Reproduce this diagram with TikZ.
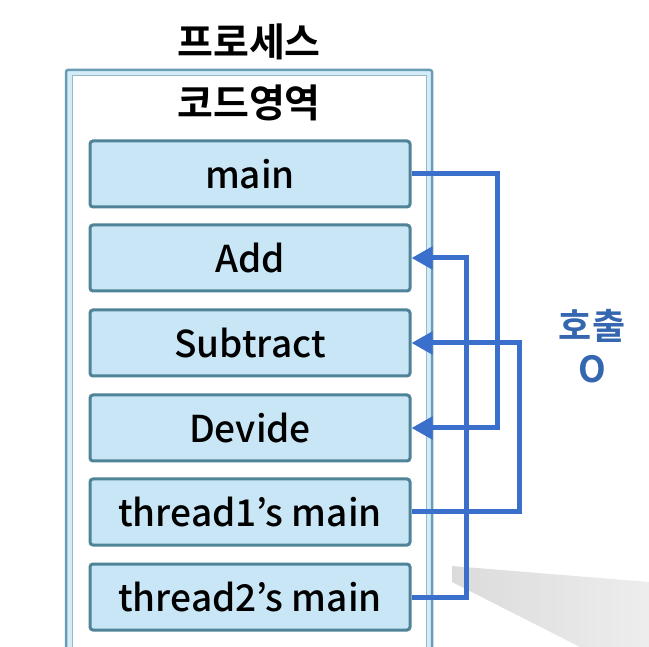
\documentclass[tikz,border=0pt]{standalone}
\usepackage{fontspec}
\setmainfont{Noto Sans CJK KR Medium}
\newfontfamily\krbold{Noto Sans CJK KR Bold}
\usetikzlibrary{arrows.meta}
\definecolor{boxfill}{HTML}{C8E6F5}
\definecolor{boxline}{HTML}{4F8398}
\definecolor{outerline}{HTML}{6A9DB4}
\definecolor{outerband}{HTML}{D3ECF7}
\definecolor{conncol}{HTML}{3A6FCB}
\definecolor{labcol}{HTML}{3566B0}
\tikzset{
  x=1pt,y=-1pt,
  fnbox/.style={draw=boxline,line width=3pt,fill=boxfill,rounded corners=3pt,
    minimum width=320pt,minimum height=66pt,inner sep=0pt,
    font=\fontsize{37}{40}\selectfont},
  title/.style={font=\krbold\fontsize{39}{42}\selectfont,inner sep=0pt},
  conn/.style={draw=conncol,line width=5pt},
  arr/.style={conn,-{Triangle[length=21pt,width=22pt]}}
}
\begin{document}
\begin{tikzpicture}
\useasboundingbox (0,0) rectangle (649,647);
\clip (0,0) rectangle (649,647);
% shadow wedge
\shade[left color=gray!40,right color=gray!20,opacity=0.7]
  (452,566) -- (649,582) -- (649,647) -- (580,647) -- (452,582) -- cycle;
% outer process box
\draw[draw=outerline,line width=2.5pt,fill=outerband,rounded corners=2pt] (66,70) rectangle (432,670);
\draw[draw=outerline!70,line width=1pt,fill=white] (72,76) rectangle (426,670);
\node[title] (proc) at (249,42) {프로세스};
\node[title] (code) at (249,103) {코드영역};
\node[fnbox] (main) at (250,174) {main};
\node[fnbox] (add) at (250,258) {Add};
\node[fnbox] (sub) at (250,343) {Subtract};
\node[fnbox] (dev) at (250,428) {Devide};
\node[fnbox] (t1) at (250,512) {thread1's main};
\node[fnbox] (t2) at (250,597) {thread2's main};
% connectors
\draw[arr] (main.east) -- ++(86,0) |- (dev.east);
\draw[arr] (t2.east) -- ++(55,0) |- (add.east);
\draw[arr] (t1.east) -- ++(108,0) |- (sub.east);
\node[font=\krbold\fontsize{36}{43}\selectfont,text=labcol,align=center] (call) at (592,346) {호출\\O};
\end{tikzpicture}
\end{document}
